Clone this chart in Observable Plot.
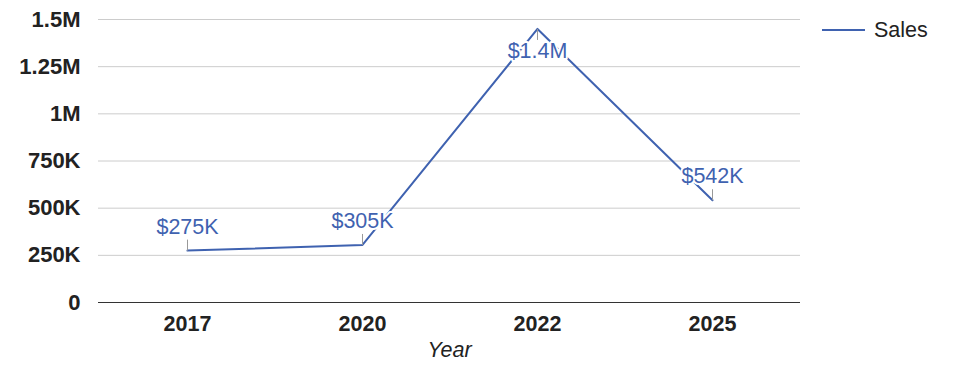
<!DOCTYPE html>
<html><head><meta charset="utf-8">
<script src="https://cdn.jsdelivr.net/npm/d3@7"></script>
<script src="https://cdn.jsdelivr.net/npm/@observablehq/plot@0.6"></script>
<style>
body{margin:0;background:#fff;font-family:"Liberation Sans",Arial,sans-serif}
#wrap{position:relative;width:975px;height:378px}
#legend{position:absolute;left:822px;top:18px;display:flex;align-items:center;font-size:21.5px;color:#222;line-height:24px}
#legend svg{margin-right:9px}
</style></head><body><div id="wrap"></div>
<script>
const years = ["2017", "2020", "2022", "2025"];
const sales = [275000, 305000, 1450000, 542000];
const valueLabels = ["$275K", "$305K", "$1.4M", "$542K"];
const yTicks = [0, 250000, 500000, 750000, 1000000, 1250000, 1500000];
const yTickLabels = ["0", "250K", "500K", "750K", "1M", "1.25M", "1.5M"];
const seriesName = "Sales";
const xTitle = "Year";

const data = years.map((y, i) => ({year: y, value: sales[i], label: valueLabels[i]}));
const maxV = d3.max(sales);
const blue = "#3f62b0";
const font = "Liberation Sans, Arial, sans-serif";

const stemUp = {draw(ctx) { ctx.moveTo(0, 0); ctx.lineTo(0, -11); }};
const stemDown = {draw(ctx) { ctx.moveTo(0, 0); ctx.lineTo(0, 11); }};

const chart = Plot.plot({
  width: 975, height: 378,
  marginLeft: 98, marginRight: 175, marginTop: 19, marginBottom: 76,
  style: {fontFamily: font, background: "#fff"},
  x: {type: "point", domain: years, padding: 0.5},
  y: {domain: [0, 1500000]},
  marks: [
    Plot.gridY(yTicks, {stroke: "#cccccc", strokeOpacity: 1}),
    Plot.ruleY([0], {stroke: "#333", strokeWidth: 1}),
    Plot.axisY({ticks: yTicks, tickFormat: (d) => yTickLabels[yTicks.indexOf(d)], tickSize: 0, tickPadding: 18, fontSize: 22, fontWeight: "bold", fill: "#222", label: null}),
    Plot.axisX({tickSize: 0, tickPadding: 13, fontSize: 21.5, fontWeight: "bold", fill: "#222", label: null}),
    Plot.line(data, {x: "year", y: "value", stroke: blue, strokeWidth: 2}),
    Plot.dot(data.filter(d => d.value !== maxV), {x: "year", y: "value", symbol: stemUp, stroke: "#999", fill: "none", strokeWidth: 1, r: 4}),
    Plot.dot(data.filter(d => d.value === maxV), {x: "year", y: "value", symbol: stemDown, stroke: "#999", fill: "none", strokeWidth: 1, r: 4}),
    Plot.text(data.filter(d => d.value !== maxV), {x: "year", y: "value", text: "label", dy: -24, fill: blue, stroke: "white", strokeWidth: 4, fontSize: 21.5}),
    Plot.text(data.filter(d => d.value === maxV), {x: "year", y: "value", text: "label", dy: 22, fill: blue, stroke: "white", strokeWidth: 4, fontSize: 21.5}),
    Plot.text([xTitle], {frameAnchor: "bottom", dy: 54, fontSize: 21.5, fontStyle: "italic", fill: "#222"})
  ]
});

const wrap = document.getElementById("wrap");
wrap.appendChild(chart);
const legend = document.createElement("div");
legend.id = "legend";
legend.innerHTML = `<svg width="43" height="4"><line x1="0" y1="2" x2="43" y2="2" stroke="${blue}" stroke-width="2"/></svg><span>${seriesName}</span>`;
wrap.appendChild(legend);
</script></body></html>
